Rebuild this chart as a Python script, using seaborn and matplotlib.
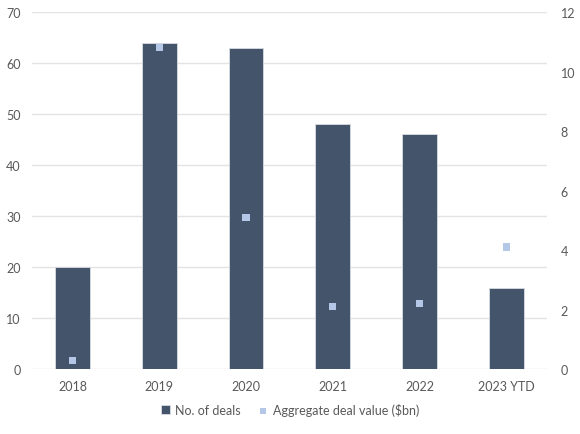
import matplotlib
matplotlib.use("Agg")
import matplotlib.pyplot as plt
import seaborn as sns
import pandas as pd

years = ["2018", "2019", "2020", "2021", "2022", "2023 YTD"]
deal_counts = [20, 64, 63, 48, 46, 16]
deal_values = [0.3, 10.8, 5.1, 2.1, 2.2, 4.1]

bar_color = "#44546A"
point_color = "#B4C7E7"
text_color = "#595959"

sns.set_theme(style="white")
plt.rcParams["font.family"] = ["Lato", "DejaVu Sans"]

df = pd.DataFrame({"year": years, "deals": deal_counts, "value": deal_values})

fig = plt.figure(figsize=(5.8, 4.35), dpi=100)
ax = fig.add_axes([0.055, 0.149, 0.888, 0.821])

sns.barplot(data=df, x="year", y="deals", color=bar_color, width=0.4,
            edgecolor="#d9dde3", linewidth=0.6, saturation=1, ax=ax,
            label="No. of deals", zorder=2)
ax.set_ylim(0, 70)
ax.set_yticks(range(0, 71, 10))
ax.yaxis.grid(True, color="#e3e3e3", linewidth=1, zorder=0)
ax.set_axisbelow(True)
ax.set_xlabel("")
ax.set_ylabel("")
for s in ax.spines.values():
    s.set_visible(False)
ax.tick_params(axis="both", length=0, labelsize=9, colors=text_color, pad=8)

ax2 = ax.twinx()
sns.scatterplot(data=df, x="year", y="value", color=point_color, marker="s",
                s=28, edgecolor="none", ax=ax2, label="Aggregate deal value ($bn)",
                zorder=3)
ax2.set_ylim(0, 12)
ax2.set_yticks(range(0, 13, 2))
ax2.set_ylabel("")
for s in ax2.spines.values():
    s.set_visible(False)
ax2.tick_params(axis="y", length=0, labelsize=9, colors=text_color, pad=10)

h1, l1 = ax.get_legend_handles_labels()
h2, l2 = ax2.get_legend_handles_labels()
if ax2.get_legend():
    ax2.get_legend().remove()
if ax.get_legend():
    ax.get_legend().remove()
fig.legend(h1 + h2, l1 + l2, loc="center", bbox_to_anchor=(0.5, 0.056), ncol=2,
           frameon=False, fontsize=9, labelcolor=text_color, handlelength=0.7,
           handleheight=0.7, handletextpad=0.4, columnspacing=1.5, markerscale=0.8)

# right axis title, clipped by the figure edge as in the original
fig.text(1.003, 0.67, "$bn", rotation=270, fontsize=9, color=text_color,
         ha="left", va="center")

fig.savefig("out.png", dpi=100)
